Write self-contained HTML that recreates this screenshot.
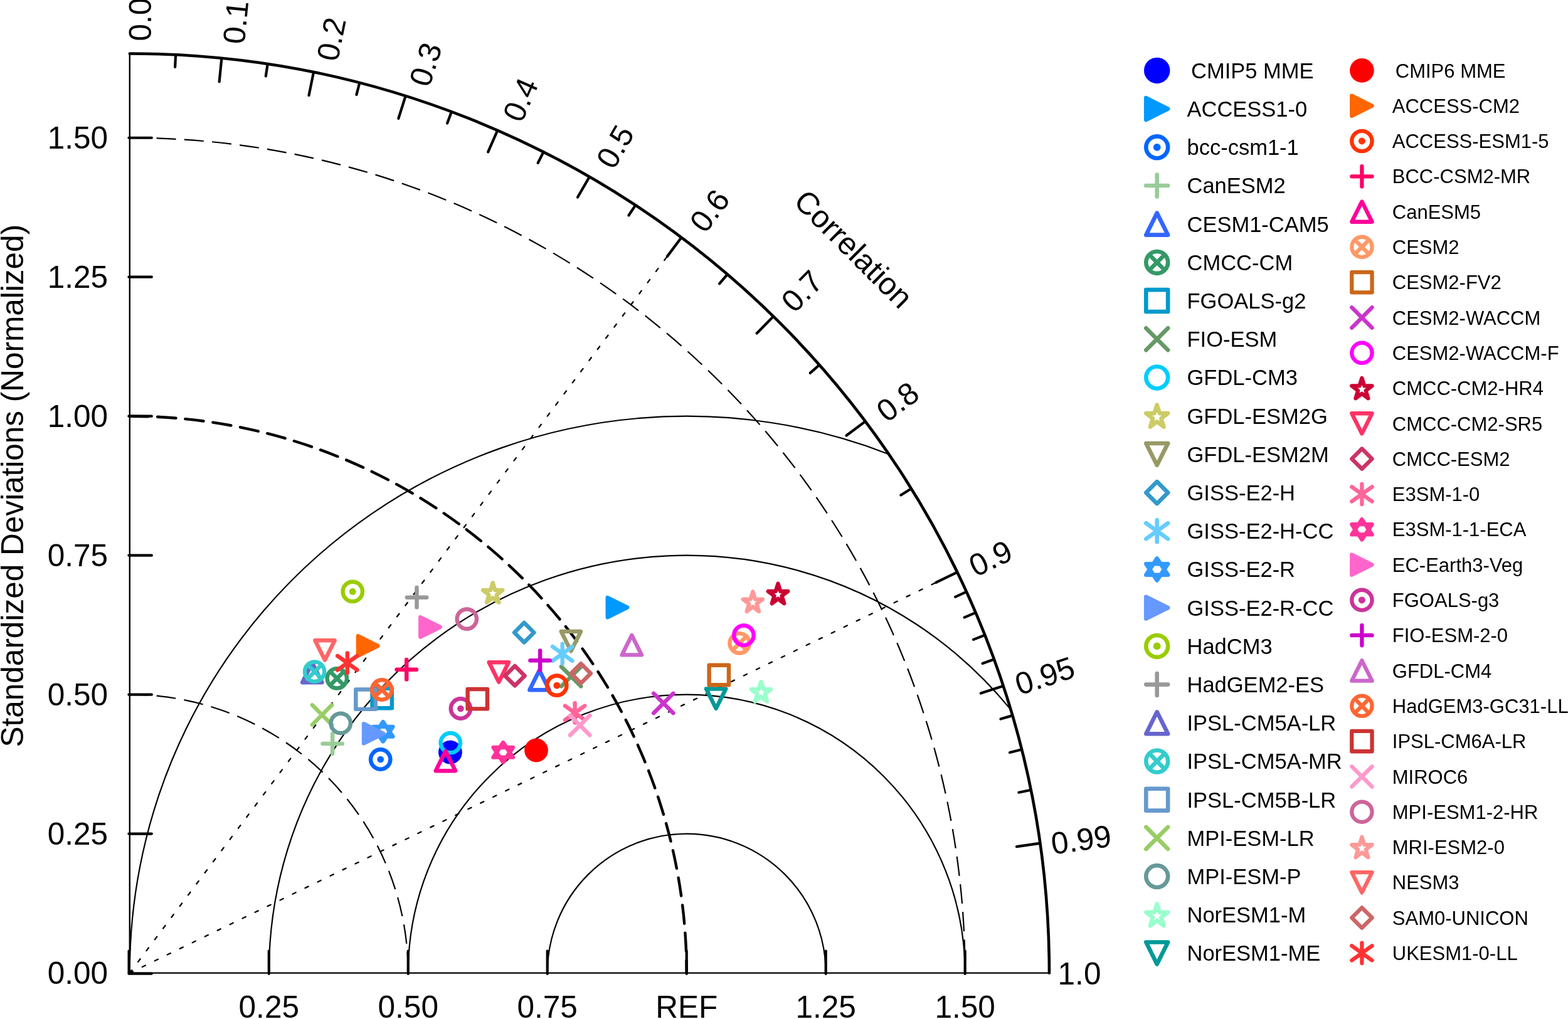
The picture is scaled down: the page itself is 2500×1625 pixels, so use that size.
<!DOCTYPE html>
<html><head><meta charset="utf-8"><title>Taylor diagram</title>
<style>html,body{margin:0;padding:0;background:#fff;}svg{display:block;}</style></head>
<body><svg width="2500" height="1625" viewBox="0 0 2500 1625" font-family="'Liberation Sans', Arial, Helvetica, sans-serif" fill="#000">
<rect width="2500" height="1625" fill="#fff"/>
<path d="M872.72,1551.60 A221.97,221.97 0 0 1 1316.67,1551.60" fill="none" stroke="#000" stroke-width="2.2"/>
<path d="M650.75,1551.60 A443.95,443.95 0 0 1 1538.65,1551.60" fill="none" stroke="#000" stroke-width="2.2"/>
<path d="M428.77,1551.60 A665.92,665.92 0 0 1 1609.68,1129.40" fill="none" stroke="#000" stroke-width="2.2"/>
<path d="M206.80,1551.60 A887.90,887.90 0 0 1 1415.45,723.66" fill="none" stroke="#000" stroke-width="2.2"/>
<path d="M206.80,1107.65 A443.95,443.95 0 0 1 650.75,1551.60" fill="none" stroke="#000" stroke-width="2.2" stroke-dasharray="31.0 13.35" stroke-linecap="butt" stroke-dashoffset="1.5"/>
<path d="M206.80,219.75 A1331.85,1331.85 0 0 1 1538.65,1551.60" fill="none" stroke="#000" stroke-width="2.2" stroke-dasharray="31.0 13.35" stroke-linecap="butt" stroke-dashoffset="1.5"/>
<path d="M206.80,663.70 A887.90,887.90 0 0 1 1094.70,1551.60" fill="none" stroke="#000" stroke-width="4.4" stroke-dasharray="29.4 14.95" stroke-linecap="round" stroke-dashoffset="0"/>
<line x1="206.80" y1="1551.60" x2="1085.82" y2="379.57" stroke="#000" stroke-width="2.3" stroke-dasharray="5.7 16.5" stroke-linecap="round"/>
<line x1="206.80" y1="1551.60" x2="1525.33" y2="913.01" stroke="#000" stroke-width="2.3" stroke-dasharray="5.7 16.5" stroke-linecap="round"/>
<line x1="206.80" y1="1551.60" x2="206.80" y2="86.57" stroke="#000" stroke-width="2.4"/>
<line x1="206.80" y1="1551.60" x2="1671.83" y2="1551.60" stroke="#000" stroke-width="2.4"/>
<line x1="205.60" y1="1552.60" x2="205.60" y2="1516.60" stroke="#000" stroke-width="4.2" stroke-linecap="round"/>
<line x1="205.60" y1="1552.60" x2="241.80" y2="1552.60" stroke="#000" stroke-width="4.2" stroke-linecap="round"/>
<line x1="205.40" y1="1329.62" x2="241.80" y2="1329.62" stroke="#000" stroke-width="4.2" stroke-linecap="round"/>
<line x1="428.77" y1="1553.00" x2="428.77" y2="1516.60" stroke="#000" stroke-width="4.2" stroke-linecap="round"/>
<line x1="205.40" y1="1107.65" x2="241.80" y2="1107.65" stroke="#000" stroke-width="4.2" stroke-linecap="round"/>
<line x1="650.75" y1="1553.00" x2="650.75" y2="1516.60" stroke="#000" stroke-width="4.2" stroke-linecap="round"/>
<line x1="205.40" y1="885.67" x2="241.80" y2="885.67" stroke="#000" stroke-width="4.2" stroke-linecap="round"/>
<line x1="872.72" y1="1553.00" x2="872.72" y2="1516.60" stroke="#000" stroke-width="4.2" stroke-linecap="round"/>
<line x1="205.40" y1="663.70" x2="241.80" y2="663.70" stroke="#000" stroke-width="4.2" stroke-linecap="round"/>
<line x1="1094.70" y1="1553.00" x2="1094.70" y2="1516.60" stroke="#000" stroke-width="4.2" stroke-linecap="round"/>
<line x1="205.40" y1="441.72" x2="241.80" y2="441.72" stroke="#000" stroke-width="4.2" stroke-linecap="round"/>
<line x1="1316.67" y1="1553.00" x2="1316.67" y2="1516.60" stroke="#000" stroke-width="4.2" stroke-linecap="round"/>
<line x1="205.40" y1="219.75" x2="241.80" y2="219.75" stroke="#000" stroke-width="4.2" stroke-linecap="round"/>
<line x1="1538.65" y1="1553.00" x2="1538.65" y2="1516.60" stroke="#000" stroke-width="4.2" stroke-linecap="round"/>
<path d="M206.80,85.47 A1466.13,1466.13 0 0 1 1672.93,1551.60" fill="none" stroke="#000" stroke-width="4.6" stroke-linecap="round"/>
<line x1="349.64" y1="130.35" x2="353.30" y2="93.91" stroke="#000" stroke-width="4.2" stroke-linecap="round"/>
<line x1="492.48" y1="152.05" x2="499.81" y2="116.16" stroke="#000" stroke-width="4.2" stroke-linecap="round"/>
<line x1="635.32" y1="188.98" x2="646.31" y2="154.05" stroke="#000" stroke-width="4.2" stroke-linecap="round"/>
<line x1="778.16" y1="242.44" x2="792.81" y2="208.87" stroke="#000" stroke-width="4.2" stroke-linecap="round"/>
<line x1="921.00" y1="314.56" x2="939.32" y2="282.84" stroke="#000" stroke-width="4.2" stroke-linecap="round"/>
<line x1="1063.85" y1="408.87" x2="1085.82" y2="379.57" stroke="#000" stroke-width="4.2" stroke-linecap="round"/>
<line x1="1206.69" y1="531.51" x2="1232.32" y2="505.36" stroke="#000" stroke-width="4.2" stroke-linecap="round"/>
<line x1="1349.53" y1="694.55" x2="1378.83" y2="672.58" stroke="#000" stroke-width="4.2" stroke-linecap="round"/>
<line x1="1492.37" y1="928.97" x2="1525.33" y2="913.01" stroke="#000" stroke-width="4.2" stroke-linecap="round"/>
<line x1="1563.79" y1="1105.58" x2="1598.58" y2="1094.14" stroke="#000" stroke-width="4.2" stroke-linecap="round"/>
<line x1="1620.93" y1="1350.10" x2="1657.18" y2="1344.93" stroke="#000" stroke-width="4.2" stroke-linecap="round"/>
<line x1="279.13" y1="106.87" x2="280.05" y2="88.40" stroke="#000" stroke-width="4.2" stroke-linecap="round"/>
<line x1="423.78" y1="121.43" x2="426.56" y2="103.14" stroke="#000" stroke-width="4.2" stroke-linecap="round"/>
<line x1="568.43" y1="151.00" x2="573.06" y2="133.09" stroke="#000" stroke-width="4.2" stroke-linecap="round"/>
<line x1="713.09" y1="196.56" x2="719.56" y2="179.23" stroke="#000" stroke-width="4.2" stroke-linecap="round"/>
<line x1="857.74" y1="259.80" x2="866.07" y2="243.28" stroke="#000" stroke-width="4.2" stroke-linecap="round"/>
<line x1="1002.39" y1="343.51" x2="1012.57" y2="328.05" stroke="#000" stroke-width="4.2" stroke-linecap="round"/>
<line x1="1147.05" y1="452.33" x2="1159.07" y2="438.27" stroke="#000" stroke-width="4.2" stroke-linecap="round"/>
<line x1="1291.70" y1="594.81" x2="1305.58" y2="582.57" stroke="#000" stroke-width="4.2" stroke-linecap="round"/>
<line x1="1436.35" y1="789.59" x2="1452.08" y2="779.84" stroke="#000" stroke-width="4.2" stroke-linecap="round"/>
<line x1="1523.15" y1="951.85" x2="1539.98" y2="944.18" stroke="#000" stroke-width="4.2" stroke-linecap="round"/>
<line x1="1537.61" y1="984.68" x2="1554.63" y2="977.43" stroke="#000" stroke-width="4.2" stroke-linecap="round"/>
<line x1="1552.08" y1="1019.91" x2="1569.28" y2="1013.11" stroke="#000" stroke-width="4.2" stroke-linecap="round"/>
<line x1="1566.54" y1="1058.08" x2="1583.93" y2="1051.77" stroke="#000" stroke-width="4.2" stroke-linecap="round"/>
<line x1="1595.47" y1="1146.57" x2="1613.23" y2="1141.39" stroke="#000" stroke-width="4.2" stroke-linecap="round"/>
<line x1="1609.94" y1="1199.94" x2="1627.88" y2="1195.44" stroke="#000" stroke-width="4.2" stroke-linecap="round"/>
<line x1="1624.40" y1="1263.74" x2="1642.53" y2="1260.06" stroke="#000" stroke-width="4.2" stroke-linecap="round"/>
<text x="172" y="1569.32" text-anchor="end" font-size="49.5">0.00</text>
<text x="172" y="1347.35" text-anchor="end" font-size="49.5">0.25</text>
<text x="172" y="1125.37" text-anchor="end" font-size="49.5">0.50</text>
<text x="172" y="903.40" text-anchor="end" font-size="49.5">0.75</text>
<text x="172" y="681.42" text-anchor="end" font-size="49.5">1.00</text>
<text x="172" y="459.45" text-anchor="end" font-size="49.5">1.25</text>
<text x="172" y="237.47" text-anchor="end" font-size="49.5">1.50</text>
<text x="428.77" y="1623" text-anchor="middle" font-size="49.5">0.25</text>
<text x="650.75" y="1623" text-anchor="middle" font-size="49.5">0.50</text>
<text x="872.72" y="1623" text-anchor="middle" font-size="49.5">0.75</text>
<text x="1094.70" y="1623" text-anchor="middle" font-size="49.5">REF</text>
<text x="1316.67" y="1623" text-anchor="middle" font-size="49.5">1.25</text>
<text x="1538.65" y="1623" text-anchor="middle" font-size="49.5">1.50</text>
<text x="223.50" y="48.72" text-anchor="middle" font-size="49.5" transform="rotate(-90.00 223.50 31.00)">0.0</text>
<text x="375.20" y="53.12" text-anchor="middle" font-size="49.5" transform="rotate(-84.26 375.20 35.40)">0.1</text>
<text x="527.70" y="79.92" text-anchor="middle" font-size="49.5" transform="rotate(-78.46 527.70 62.20)">0.2</text>
<text x="678.00" y="120.22" text-anchor="middle" font-size="49.5" transform="rotate(-72.54 678.00 102.50)">0.3</text>
<text x="829.20" y="176.52" text-anchor="middle" font-size="49.5" transform="rotate(-66.42 829.20 158.80)">0.4</text>
<text x="980.30" y="251.32" text-anchor="middle" font-size="49.5" transform="rotate(-60.00 980.30 233.60)">0.5</text>
<text x="1130.90" y="353.42" text-anchor="middle" font-size="49.5" transform="rotate(-53.13 1130.90 335.70)">0.6</text>
<text x="1278.30" y="481.62" text-anchor="middle" font-size="49.5" transform="rotate(-45.57 1278.30 463.90)">0.7</text>
<text x="1430.80" y="657.92" text-anchor="middle" font-size="49.5" transform="rotate(-36.87 1430.80 640.20)">0.8</text>
<text x="1579.00" y="907.42" text-anchor="middle" font-size="49.5" transform="rotate(-25.84 1579.00 889.70)">0.9</text>
<text x="1665.70" y="1094.92" text-anchor="middle" font-size="49.5" transform="rotate(-18.19 1665.70 1077.20)">0.95</text>
<text x="1723.60" y="1356.22" text-anchor="middle" font-size="49.5" transform="rotate(-8.11 1723.60 1338.50)">0.99</text>
<text x="1721.00" y="1569.92" text-anchor="middle" font-size="49.5" transform="rotate(-0.00 1721.00 1552.20)">1.0</text>
<text x="1361.40" y="414.22" text-anchor="middle" font-size="49.5" transform="rotate(45 1361.40 396.50)">Correlation</text>
<text x="-774.7" y="37.2" text-anchor="middle" font-size="49.5" transform="rotate(-90)" >Standardized Deviations (Normalized)</text>
<circle cx="717.90" cy="1199.70" r="18.90" fill="#0000FF"/>
<path d="M968.73,953.03L1000.07,968.70L968.73,984.38Z" fill="#0099FF" stroke="#0099FF" stroke-width="6.45" stroke-linecap="round" stroke-linejoin="round"/>
<circle cx="606.70" cy="1211.00" r="15.67" fill="none" stroke="#0066FF" stroke-width="6.45" stroke-linecap="round" stroke-linejoin="round"/><circle cx="606.70" cy="1211.00" r="5.37" fill="#0066FF"/>
<path d="M514.43,1186.00H545.77M530.10,1170.33V1201.67" fill="none" stroke="#99CC99" stroke-width="6.45" stroke-linecap="round" stroke-linejoin="round"/>
<path d="M860.00,1068.92L875.67,1100.27L844.33,1100.27Z" fill="none" stroke="#3366FF" stroke-width="6.45" stroke-linecap="round" stroke-linejoin="round"/>
<circle cx="537.30" cy="1081.80" r="15.67" fill="none" stroke="#339966" stroke-width="6.45" stroke-linecap="round" stroke-linejoin="round"/><path d="M526.22,1070.72L548.38,1092.88M526.22,1092.88L548.38,1070.72" fill="none" stroke="#339966" stroke-width="6.45"/>
<rect x="593.53" y="1097.83" width="31.35" height="31.35" fill="none" stroke="#0099CC" stroke-width="6.45" stroke-linecap="round" stroke-linejoin="round"/>
<path d="M894.93,1063.12L926.27,1094.47M894.93,1094.47L926.27,1063.12" fill="none" stroke="#669966" stroke-width="6.45" stroke-linecap="round" stroke-linejoin="round"/>
<circle cx="718.30" cy="1184.60" r="15.67" fill="none" stroke="#00CCFF" stroke-width="6.45" stroke-linecap="round" stroke-linejoin="round"/>
<path d="M785.70,929.33L789.40,941.30L801.38,941.30L791.69,948.70L795.39,960.67L785.70,953.27L776.01,960.67L779.71,948.70L770.03,941.30L782.00,941.30Z" fill="none" stroke="#CCCC66" stroke-width="6.45" stroke-linecap="round" stroke-linejoin="round"/>
<path d="M910.40,1038.38L926.07,1007.03L894.73,1007.03Z" fill="none" stroke="#999966" stroke-width="6.45" stroke-linecap="round" stroke-linejoin="round"/>
<path d="M835.70,993.03L851.38,1008.70L835.70,1024.38L820.03,1008.70Z" fill="none" stroke="#3399CC" stroke-width="6.45" stroke-linecap="round" stroke-linejoin="round"/>
<path d="M896.70,1026.83V1058.17M881.03,1031.21L912.38,1053.79M881.03,1053.79L912.38,1031.21" fill="none" stroke="#66CCFF" stroke-width="6.45" stroke-linecap="round" stroke-linejoin="round"/>
<path d="M610.70,1151.03L626.38,1174.54L595.03,1174.54ZM610.70,1182.38L626.38,1158.86L595.03,1158.86Z" fill="none" stroke="#3399FF" stroke-width="6.45" stroke-linecap="round" stroke-linejoin="round"/>
<path d="M580.03,1154.12L611.38,1169.80L580.03,1185.47Z" fill="#6699FF" stroke="#6699FF" stroke-width="6.45" stroke-linecap="round" stroke-linejoin="round"/>
<circle cx="562.20" cy="943.40" r="15.67" fill="none" stroke="#99CC00" stroke-width="6.45" stroke-linecap="round" stroke-linejoin="round"/><circle cx="562.20" cy="943.40" r="5.37" fill="#99CC00"/>
<path d="M648.83,952.70H680.17M664.50,937.03V968.38" fill="none" stroke="#999999" stroke-width="6.45" stroke-linecap="round" stroke-linejoin="round"/>
<path d="M497.80,1056.92L513.48,1088.27L482.12,1088.27Z" fill="none" stroke="#6666CC" stroke-width="6.45" stroke-linecap="round" stroke-linejoin="round"/>
<circle cx="501.60" cy="1071.10" r="15.67" fill="none" stroke="#33CCCC" stroke-width="6.45" stroke-linecap="round" stroke-linejoin="round"/><path d="M490.52,1060.02L512.68,1082.18M490.52,1082.18L512.68,1060.02" fill="none" stroke="#33CCCC" stroke-width="6.45"/>
<rect x="567.33" y="1099.53" width="31.35" height="31.35" fill="none" stroke="#6699CC" stroke-width="6.45" stroke-linecap="round" stroke-linejoin="round"/>
<path d="M497.82,1124.33L529.17,1155.67M497.82,1155.67L529.17,1124.33" fill="none" stroke="#99CC66" stroke-width="6.45" stroke-linecap="round" stroke-linejoin="round"/>
<circle cx="543.20" cy="1153.40" r="15.67" fill="none" stroke="#669999" stroke-width="6.45" stroke-linecap="round" stroke-linejoin="round"/>
<path d="M1213.40,1087.23L1217.10,1099.20L1229.08,1099.20L1219.39,1106.60L1223.09,1118.58L1213.40,1111.17L1203.71,1118.58L1207.41,1106.60L1197.73,1099.20L1209.70,1099.20Z" fill="none" stroke="#99FFCC" stroke-width="6.45" stroke-linecap="round" stroke-linejoin="round"/>
<path d="M1141.60,1129.88L1157.27,1098.53L1125.92,1098.53Z" fill="none" stroke="#009999" stroke-width="6.45" stroke-linecap="round" stroke-linejoin="round"/>
<circle cx="855.00" cy="1196.50" r="18.90" fill="#FF0000"/>
<path d="M570.93,1014.33L602.27,1030.00L570.93,1045.67Z" fill="#FF6600" stroke="#FF6600" stroke-width="6.45" stroke-linecap="round" stroke-linejoin="round"/>
<circle cx="887.80" cy="1093.10" r="15.67" fill="none" stroke="#FF3300" stroke-width="6.45" stroke-linecap="round" stroke-linejoin="round"/><circle cx="887.80" cy="1093.10" r="5.37" fill="#FF3300"/>
<path d="M632.53,1067.70H663.88M648.20,1052.03V1083.38" fill="none" stroke="#FF0066" stroke-width="6.45" stroke-linecap="round" stroke-linejoin="round"/>
<path d="M710.40,1197.83L726.07,1229.17L694.73,1229.17Z" fill="none" stroke="#FF0099" stroke-width="6.45" stroke-linecap="round" stroke-linejoin="round"/>
<circle cx="1179.10" cy="1025.80" r="15.67" fill="none" stroke="#FF9966" stroke-width="6.45" stroke-linecap="round" stroke-linejoin="round"/><path d="M1168.02,1014.72L1190.18,1036.88M1168.02,1036.88L1190.18,1014.72" fill="none" stroke="#FF9966" stroke-width="6.45"/>
<rect x="1130.62" y="1060.83" width="31.35" height="31.35" fill="none" stroke="#CC6619" stroke-width="6.45" stroke-linecap="round" stroke-linejoin="round"/>
<path d="M1042.12,1105.83L1073.47,1137.17M1042.12,1137.17L1073.47,1105.83" fill="none" stroke="#CC33CC" stroke-width="6.45" stroke-linecap="round" stroke-linejoin="round"/>
<circle cx="1185.90" cy="1013.20" r="15.67" fill="none" stroke="#FF00FF" stroke-width="6.45" stroke-linecap="round" stroke-linejoin="round"/>
<path d="M1240.50,930.93L1244.20,942.90L1256.17,942.90L1246.49,950.30L1250.19,962.27L1240.50,954.87L1230.81,962.27L1234.51,950.30L1224.83,942.90L1236.80,942.90Z" fill="none" stroke="#CC0033" stroke-width="6.45" stroke-linecap="round" stroke-linejoin="round"/>
<path d="M795.30,1087.58L810.97,1056.23L779.62,1056.23Z" fill="none" stroke="#FF3366" stroke-width="6.45" stroke-linecap="round" stroke-linejoin="round"/>
<path d="M820.90,1062.03L836.57,1077.70L820.90,1093.38L805.23,1077.70Z" fill="none" stroke="#CC3366" stroke-width="6.45" stroke-linecap="round" stroke-linejoin="round"/>
<path d="M916.60,1121.23V1152.58M900.93,1125.61L932.27,1148.19M900.93,1148.19L932.27,1125.61" fill="none" stroke="#FF6699" stroke-width="6.45" stroke-linecap="round" stroke-linejoin="round"/>
<path d="M802.20,1184.12L817.88,1207.64L786.53,1207.64ZM802.20,1215.47L817.88,1191.96L786.53,1191.96Z" fill="none" stroke="#FF3399" stroke-width="6.45" stroke-linecap="round" stroke-linejoin="round"/>
<path d="M670.33,984.33L701.67,1000.00L670.33,1015.67Z" fill="#FF66CC" stroke="#FF66CC" stroke-width="6.45" stroke-linecap="round" stroke-linejoin="round"/>
<circle cx="734.40" cy="1130.00" r="15.67" fill="none" stroke="#CC3399" stroke-width="6.45" stroke-linecap="round" stroke-linejoin="round"/><circle cx="734.40" cy="1130.00" r="5.37" fill="#CC3399"/>
<path d="M845.43,1053.20H876.77M861.10,1037.53V1068.88" fill="none" stroke="#CC00CC" stroke-width="6.45" stroke-linecap="round" stroke-linejoin="round"/>
<path d="M1007.30,1013.03L1022.97,1044.38L991.62,1044.38Z" fill="none" stroke="#CC66CC" stroke-width="6.45" stroke-linecap="round" stroke-linejoin="round"/>
<circle cx="608.80" cy="1100.00" r="15.67" fill="none" stroke="#FF6633" stroke-width="6.45" stroke-linecap="round" stroke-linejoin="round"/><path d="M597.72,1088.92L619.88,1111.08M597.72,1111.08L619.88,1088.92" fill="none" stroke="#FF6633" stroke-width="6.45"/>
<rect x="745.62" y="1099.03" width="31.35" height="31.35" fill="none" stroke="#CC3333" stroke-width="6.45" stroke-linecap="round" stroke-linejoin="round"/>
<path d="M909.03,1141.03L940.38,1172.38M909.03,1172.38L940.38,1141.03" fill="none" stroke="#FF99CC" stroke-width="6.45" stroke-linecap="round" stroke-linejoin="round"/>
<circle cx="744.30" cy="987.10" r="15.67" fill="none" stroke="#CC6699" stroke-width="6.45" stroke-linecap="round" stroke-linejoin="round"/>
<path d="M1200.30,943.62L1204.00,955.60L1215.97,955.60L1206.29,963.00L1209.99,974.97L1200.30,967.57L1190.61,974.97L1194.31,963.00L1184.62,955.60L1196.60,955.60Z" fill="none" stroke="#FF9999" stroke-width="6.45" stroke-linecap="round" stroke-linejoin="round"/>
<path d="M518.00,1052.67L533.67,1021.33L502.32,1021.33Z" fill="none" stroke="#FF6666" stroke-width="6.45" stroke-linecap="round" stroke-linejoin="round"/>
<path d="M926.20,1058.23L941.88,1073.90L926.20,1089.58L910.53,1073.90Z" fill="none" stroke="#CC6666" stroke-width="6.45" stroke-linecap="round" stroke-linejoin="round"/>
<path d="M553.80,1041.53V1072.88M538.12,1045.91L569.47,1068.49M538.12,1068.49L569.47,1045.91" fill="none" stroke="#FF3333" stroke-width="6.45" stroke-linecap="round" stroke-linejoin="round"/>
<circle cx="1844.70" cy="112.40" r="20.75" fill="#0000FF"/>
<text x="1899.00" y="124.75" font-size="34.5">CMIP5 MME</text>
<path d="M1827.25,156.15L1862.15,173.60L1827.25,191.05Z" fill="#0099FF" stroke="#0099FF" stroke-width="6.60" stroke-linecap="round" stroke-linejoin="round"/>
<text x="1892.50" y="185.95" font-size="34.5">ACCESS1-0</text>
<circle cx="1844.70" cy="234.80" r="17.45" fill="none" stroke="#0066FF" stroke-width="6.60" stroke-linecap="round" stroke-linejoin="round"/><circle cx="1844.70" cy="234.80" r="5.89" fill="#0066FF"/>
<text x="1892.50" y="247.15" font-size="34.5">bcc-csm1-1</text>
<path d="M1827.25,296.00H1862.15M1844.70,278.55V313.45" fill="none" stroke="#99CC99" stroke-width="6.60" stroke-linecap="round" stroke-linejoin="round"/>
<text x="1892.50" y="308.35" font-size="34.5">CanESM2</text>
<path d="M1844.70,339.75L1862.15,374.65L1827.25,374.65Z" fill="none" stroke="#3366FF" stroke-width="6.60" stroke-linecap="round" stroke-linejoin="round"/>
<text x="1892.50" y="369.55" font-size="34.5">CESM1-CAM5</text>
<circle cx="1844.70" cy="418.40" r="17.45" fill="none" stroke="#339966" stroke-width="6.60" stroke-linecap="round" stroke-linejoin="round"/><path d="M1832.36,406.06L1857.04,430.74M1832.36,430.74L1857.04,406.06" fill="none" stroke="#339966" stroke-width="6.60"/>
<text x="1892.50" y="430.75" font-size="34.5">CMCC-CM</text>
<rect x="1827.25" y="462.15" width="34.90" height="34.90" fill="none" stroke="#0099CC" stroke-width="6.60" stroke-linecap="round" stroke-linejoin="round"/>
<text x="1892.50" y="491.95" font-size="34.5">FGOALS-g2</text>
<path d="M1827.25,523.35L1862.15,558.25M1827.25,558.25L1862.15,523.35" fill="none" stroke="#669966" stroke-width="6.60" stroke-linecap="round" stroke-linejoin="round"/>
<text x="1892.50" y="553.15" font-size="34.5">FIO-ESM</text>
<circle cx="1844.70" cy="602.00" r="17.45" fill="none" stroke="#00CCFF" stroke-width="6.60" stroke-linecap="round" stroke-linejoin="round"/>
<text x="1892.50" y="614.35" font-size="34.5">GFDL-CM3</text>
<path d="M1844.70,645.75L1848.82,659.08L1862.15,659.08L1851.37,667.32L1855.48,680.65L1844.70,672.41L1833.92,680.65L1838.03,667.32L1827.25,659.08L1840.58,659.08Z" fill="none" stroke="#CCCC66" stroke-width="6.60" stroke-linecap="round" stroke-linejoin="round"/>
<text x="1892.50" y="675.55" font-size="34.5">GFDL-ESM2G</text>
<path d="M1844.70,741.85L1862.15,706.95L1827.25,706.95Z" fill="none" stroke="#999966" stroke-width="6.60" stroke-linecap="round" stroke-linejoin="round"/>
<text x="1892.50" y="736.75" font-size="34.5">GFDL-ESM2M</text>
<path d="M1844.70,768.15L1862.15,785.60L1844.70,803.05L1827.25,785.60Z" fill="none" stroke="#3399CC" stroke-width="6.60" stroke-linecap="round" stroke-linejoin="round"/>
<text x="1892.50" y="797.95" font-size="34.5">GISS-E2-H</text>
<path d="M1844.70,829.35V864.25M1827.25,834.24L1862.15,859.36M1827.25,859.36L1862.15,834.24" fill="none" stroke="#66CCFF" stroke-width="6.60" stroke-linecap="round" stroke-linejoin="round"/>
<text x="1892.50" y="859.15" font-size="34.5">GISS-E2-H-CC</text>
<path d="M1844.70,890.55L1862.15,916.73L1827.25,916.73ZM1844.70,925.45L1862.15,899.27L1827.25,899.27Z" fill="none" stroke="#3399FF" stroke-width="6.60" stroke-linecap="round" stroke-linejoin="round"/>
<text x="1892.50" y="920.35" font-size="34.5">GISS-E2-R</text>
<path d="M1827.25,951.75L1862.15,969.20L1827.25,986.65Z" fill="#6699FF" stroke="#6699FF" stroke-width="6.60" stroke-linecap="round" stroke-linejoin="round"/>
<text x="1892.50" y="981.55" font-size="34.5">GISS-E2-R-CC</text>
<circle cx="1844.70" cy="1030.40" r="17.45" fill="none" stroke="#99CC00" stroke-width="6.60" stroke-linecap="round" stroke-linejoin="round"/><circle cx="1844.70" cy="1030.40" r="5.89" fill="#99CC00"/>
<text x="1892.50" y="1042.75" font-size="34.5">HadCM3</text>
<path d="M1827.25,1091.60H1862.15M1844.70,1074.15V1109.05" fill="none" stroke="#999999" stroke-width="6.60" stroke-linecap="round" stroke-linejoin="round"/>
<text x="1892.50" y="1103.95" font-size="34.5">HadGEM2-ES</text>
<path d="M1844.70,1135.35L1862.15,1170.25L1827.25,1170.25Z" fill="none" stroke="#6666CC" stroke-width="6.60" stroke-linecap="round" stroke-linejoin="round"/>
<text x="1892.50" y="1165.15" font-size="34.5">IPSL-CM5A-LR</text>
<circle cx="1844.70" cy="1214.00" r="17.45" fill="none" stroke="#33CCCC" stroke-width="6.60" stroke-linecap="round" stroke-linejoin="round"/><path d="M1832.36,1201.66L1857.04,1226.34M1832.36,1226.34L1857.04,1201.66" fill="none" stroke="#33CCCC" stroke-width="6.60"/>
<text x="1892.50" y="1226.35" font-size="34.5">IPSL-CM5A-MR</text>
<rect x="1827.25" y="1257.75" width="34.90" height="34.90" fill="none" stroke="#6699CC" stroke-width="6.60" stroke-linecap="round" stroke-linejoin="round"/>
<text x="1892.50" y="1287.55" font-size="34.5">IPSL-CM5B-LR</text>
<path d="M1827.25,1318.95L1862.15,1353.85M1827.25,1353.85L1862.15,1318.95" fill="none" stroke="#99CC66" stroke-width="6.60" stroke-linecap="round" stroke-linejoin="round"/>
<text x="1892.50" y="1348.75" font-size="34.5">MPI-ESM-LR</text>
<circle cx="1844.70" cy="1397.60" r="17.45" fill="none" stroke="#669999" stroke-width="6.60" stroke-linecap="round" stroke-linejoin="round"/>
<text x="1892.50" y="1409.95" font-size="34.5">MPI-ESM-P</text>
<path d="M1844.70,1441.35L1848.82,1454.68L1862.15,1454.68L1851.37,1462.92L1855.48,1476.25L1844.70,1468.01L1833.92,1476.25L1838.03,1462.92L1827.25,1454.68L1840.58,1454.68Z" fill="none" stroke="#99FFCC" stroke-width="6.60" stroke-linecap="round" stroke-linejoin="round"/>
<text x="1892.50" y="1471.15" font-size="34.5">NorESM1-M</text>
<path d="M1844.70,1537.45L1862.15,1502.55L1827.25,1502.55Z" fill="none" stroke="#009999" stroke-width="6.60" stroke-linecap="round" stroke-linejoin="round"/>
<text x="1892.50" y="1532.35" font-size="34.5">NorESM1-ME</text>
<circle cx="2171.40" cy="112.40" r="19.30" fill="#FF0000"/>
<text x="2224.80" y="123.50" font-size="31">CMIP6 MME</text>
<path d="M2155.25,152.55L2187.55,168.70L2155.25,184.85Z" fill="#FF6600" stroke="#FF6600" stroke-width="6.30" stroke-linecap="round" stroke-linejoin="round"/>
<text x="2219.80" y="179.80" font-size="31">ACCESS-CM2</text>
<circle cx="2171.40" cy="225.00" r="16.15" fill="none" stroke="#FF3300" stroke-width="6.30" stroke-linecap="round" stroke-linejoin="round"/><circle cx="2171.40" cy="225.00" r="5.48" fill="#FF3300"/>
<text x="2219.80" y="236.10" font-size="31">ACCESS-ESM1-5</text>
<path d="M2155.25,281.30H2187.55M2171.40,265.15V297.45" fill="none" stroke="#FF0066" stroke-width="6.30" stroke-linecap="round" stroke-linejoin="round"/>
<text x="2219.80" y="292.40" font-size="31">BCC-CSM2-MR</text>
<path d="M2171.40,321.45L2187.55,353.75L2155.25,353.75Z" fill="none" stroke="#FF0099" stroke-width="6.30" stroke-linecap="round" stroke-linejoin="round"/>
<text x="2219.80" y="348.70" font-size="31">CanESM5</text>
<circle cx="2171.40" cy="393.90" r="16.15" fill="none" stroke="#FF9966" stroke-width="6.30" stroke-linecap="round" stroke-linejoin="round"/><path d="M2159.98,382.48L2182.82,405.32M2159.98,405.32L2182.82,382.48" fill="none" stroke="#FF9966" stroke-width="6.30"/>
<text x="2219.80" y="405.00" font-size="31">CESM2</text>
<rect x="2155.25" y="434.05" width="32.30" height="32.30" fill="none" stroke="#CC6619" stroke-width="6.30" stroke-linecap="round" stroke-linejoin="round"/>
<text x="2219.80" y="461.30" font-size="31">CESM2-FV2</text>
<path d="M2155.25,490.35L2187.55,522.65M2155.25,522.65L2187.55,490.35" fill="none" stroke="#CC33CC" stroke-width="6.30" stroke-linecap="round" stroke-linejoin="round"/>
<text x="2219.80" y="517.60" font-size="31">CESM2-WACCM</text>
<circle cx="2171.40" cy="562.80" r="16.15" fill="none" stroke="#FF00FF" stroke-width="6.30" stroke-linecap="round" stroke-linejoin="round"/>
<text x="2219.80" y="573.90" font-size="31">CESM2-WACCM-F</text>
<path d="M2171.40,602.95L2175.21,615.29L2187.55,615.29L2177.57,622.91L2181.38,635.25L2171.40,627.63L2161.42,635.25L2165.23,622.91L2155.25,615.29L2167.59,615.29Z" fill="none" stroke="#CC0033" stroke-width="6.30" stroke-linecap="round" stroke-linejoin="round"/>
<text x="2219.80" y="630.20" font-size="31">CMCC-CM2-HR4</text>
<path d="M2171.40,691.55L2187.55,659.25L2155.25,659.25Z" fill="none" stroke="#FF3366" stroke-width="6.30" stroke-linecap="round" stroke-linejoin="round"/>
<text x="2219.80" y="686.50" font-size="31">CMCC-CM2-SR5</text>
<path d="M2171.40,715.55L2187.55,731.70L2171.40,747.85L2155.25,731.70Z" fill="none" stroke="#CC3366" stroke-width="6.30" stroke-linecap="round" stroke-linejoin="round"/>
<text x="2219.80" y="742.80" font-size="31">CMCC-ESM2</text>
<path d="M2171.40,771.85V804.15M2155.25,776.37L2187.55,799.63M2155.25,799.63L2187.55,776.37" fill="none" stroke="#FF6699" stroke-width="6.30" stroke-linecap="round" stroke-linejoin="round"/>
<text x="2219.80" y="799.10" font-size="31">E3SM-1-0</text>
<path d="M2171.40,828.15L2187.55,852.38L2155.25,852.38ZM2171.40,860.45L2187.55,836.22L2155.25,836.22Z" fill="none" stroke="#FF3399" stroke-width="6.30" stroke-linecap="round" stroke-linejoin="round"/>
<text x="2219.80" y="855.40" font-size="31">E3SM-1-1-ECA</text>
<path d="M2155.25,884.45L2187.55,900.60L2155.25,916.75Z" fill="#FF66CC" stroke="#FF66CC" stroke-width="6.30" stroke-linecap="round" stroke-linejoin="round"/>
<text x="2219.80" y="911.70" font-size="31">EC-Earth3-Veg</text>
<circle cx="2171.40" cy="956.90" r="16.15" fill="none" stroke="#CC3399" stroke-width="6.30" stroke-linecap="round" stroke-linejoin="round"/><circle cx="2171.40" cy="956.90" r="5.48" fill="#CC3399"/>
<text x="2219.80" y="968.00" font-size="31">FGOALS-g3</text>
<path d="M2155.25,1013.20H2187.55M2171.40,997.05V1029.35" fill="none" stroke="#CC00CC" stroke-width="6.30" stroke-linecap="round" stroke-linejoin="round"/>
<text x="2219.80" y="1024.30" font-size="31">FIO-ESM-2-0</text>
<path d="M2171.40,1053.35L2187.55,1085.65L2155.25,1085.65Z" fill="none" stroke="#CC66CC" stroke-width="6.30" stroke-linecap="round" stroke-linejoin="round"/>
<text x="2219.80" y="1080.60" font-size="31">GFDL-CM4</text>
<circle cx="2171.40" cy="1125.80" r="16.15" fill="none" stroke="#FF6633" stroke-width="6.30" stroke-linecap="round" stroke-linejoin="round"/><path d="M2159.98,1114.38L2182.82,1137.22M2159.98,1137.22L2182.82,1114.38" fill="none" stroke="#FF6633" stroke-width="6.30"/>
<text x="2219.80" y="1136.90" font-size="31">HadGEM3-GC31-LL</text>
<rect x="2155.25" y="1165.95" width="32.30" height="32.30" fill="none" stroke="#CC3333" stroke-width="6.30" stroke-linecap="round" stroke-linejoin="round"/>
<text x="2219.80" y="1193.20" font-size="31">IPSL-CM6A-LR</text>
<path d="M2155.25,1222.25L2187.55,1254.55M2155.25,1254.55L2187.55,1222.25" fill="none" stroke="#FF99CC" stroke-width="6.30" stroke-linecap="round" stroke-linejoin="round"/>
<text x="2219.80" y="1249.50" font-size="31">MIROC6</text>
<circle cx="2171.40" cy="1294.70" r="16.15" fill="none" stroke="#CC6699" stroke-width="6.30" stroke-linecap="round" stroke-linejoin="round"/>
<text x="2219.80" y="1305.80" font-size="31">MPI-ESM1-2-HR</text>
<path d="M2171.40,1334.85L2175.21,1347.19L2187.55,1347.19L2177.57,1354.81L2181.38,1367.15L2171.40,1359.53L2161.42,1367.15L2165.23,1354.81L2155.25,1347.19L2167.59,1347.19Z" fill="none" stroke="#FF9999" stroke-width="6.30" stroke-linecap="round" stroke-linejoin="round"/>
<text x="2219.80" y="1362.10" font-size="31">MRI-ESM2-0</text>
<path d="M2171.40,1423.45L2187.55,1391.15L2155.25,1391.15Z" fill="none" stroke="#FF6666" stroke-width="6.30" stroke-linecap="round" stroke-linejoin="round"/>
<text x="2219.80" y="1418.40" font-size="31">NESM3</text>
<path d="M2171.40,1447.45L2187.55,1463.60L2171.40,1479.75L2155.25,1463.60Z" fill="none" stroke="#CC6666" stroke-width="6.30" stroke-linecap="round" stroke-linejoin="round"/>
<text x="2219.80" y="1474.70" font-size="31">SAM0-UNICON</text>
<path d="M2171.40,1503.75V1536.05M2155.25,1508.27L2187.55,1531.53M2155.25,1531.53L2187.55,1508.27" fill="none" stroke="#FF3333" stroke-width="6.30" stroke-linecap="round" stroke-linejoin="round"/>
<text x="2219.80" y="1531.00" font-size="31">UKESM1-0-LL</text>
</svg></body></html>
